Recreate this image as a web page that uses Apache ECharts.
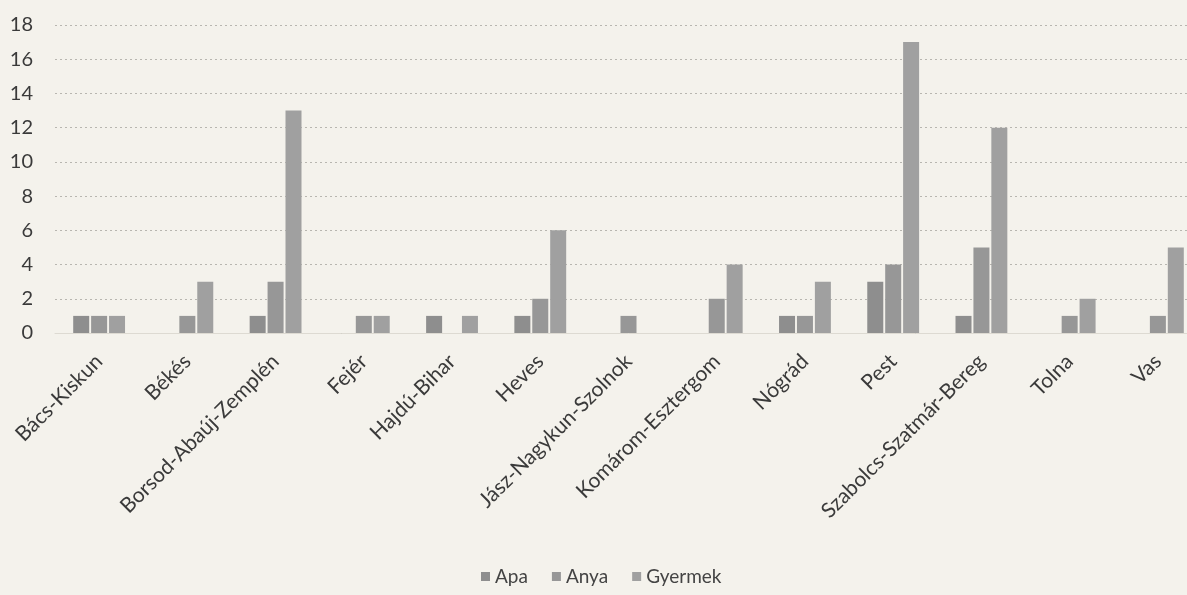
<!DOCTYPE html>
<html>
<head>
<meta charset="utf-8">
<script src="https://cdn.jsdelivr.net/npm/echarts@6/dist/echarts.min.js"></script>
<style>
html,body{margin:0;padding:0;background:#f4f2ec;overflow:hidden;}
#chart{width:1202px;height:595px;}
</style>
</head>
<body>
<div id="chart"></div>
<script>
const categories = ['Bács-Kiskun','Békés','Borsod-Abaúj-Zemplén','Fejér','Hajdú-Bihar','Heves','Jász-Nagykun-Szolnok','Komárom-Esztergom','Nógrád','Pest','Szabolcs-Szatmár-Bereg','Tolna','Vas'];
const apa     = [1, 0, 1, 0, 1, 1, 0, 0, 1, 3, 1, 0, 0];
const anya    = [1, 1, 3, 1, 0, 2, 1, 2, 1, 4, 5, 1, 1];
const gyermek = [1, 3, 13, 1, 1, 6, 0, 4, 3, 17, 12, 2, 5];
const seriesNames = ['Apa','Anya','Gyermek'];
const yTicks = [0,2,4,6,8,10,12,14,16,18];

const font = 'Lato, "Open Sans", sans-serif';
const chart = echarts.init(document.getElementById('chart'));
const colors = ['#8e8e8e','#979797','#a0a0a0'];
const mk = (name, data, i) => ({
  name, type:'bar', data,
  barWidth: 16, barGap: '12%',
  itemStyle:{color: colors[i]}
});
chart.setOption({
  backgroundColor:'#f4f2ec',
  animation:false,
  textStyle:{fontFamily:font},
  legend:{
    bottom: 4, left: 476,
    itemWidth:9, itemHeight:9, itemGap:24,
    icon:'rect',
    textStyle:{fontSize:19, color:'#444', fontFamily:font},
    data: seriesNames
  },
  grid:{left:55, top:25, right:0, height:308, containLabel:false},
  xAxis:{
    type:'category', data:categories,
    axisLine:{show:true, lineStyle:{color:'#dddad2'}},
    axisTick:{show:false},
    axisLabel:{rotate:45, fontSize:21, color:'#3a3a3a', margin:25, interval:0, fontFamily:font}
  },
  yAxis:{
    type:'value', min:0, max:18, interval:2,
    axisLine:{show:false}, axisTick:{show:false},
    axisLabel:{fontSize:20, color:'#3a3a3a', margin:22, fontFamily:font},
    splitLine:{lineStyle:{color:'#b8b6b0', type:[2,3], width:1}}
  },
  series:[mk('Apa',apa,0), mk('Anya',anya,1), mk('Gyermek',gyermek,2)]
});
</script>
</body>
</html>
